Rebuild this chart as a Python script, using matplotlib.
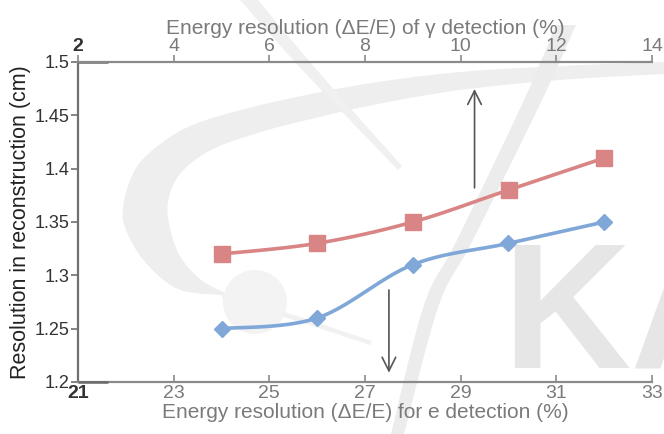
import numpy as np
import matplotlib
matplotlib.use("Agg")
import matplotlib.pyplot as plt
from matplotlib.patches import Circle, Polygon
from matplotlib.transforms import Affine2D

# Energy resolution settings and reconstruction resolution
e_resolution = [24, 26, 28, 30, 32]          # % (bottom axis, e detection)
gamma_resolution = [5, 7, 9, 11, 13]         # % (top axis, gamma detection)
res_vs_gamma = [1.32, 1.33, 1.35, 1.38, 1.41]  # cm
res_vs_e = [1.25, 1.26, 1.31, 1.33, 1.35]      # cm

bottom_ticks = [21, 23, 25, 27, 29, 31, 33]
top_ticks = [2, 4, 6, 8, 10, 12, 14]
y_ticks = [1.2, 1.25, 1.3, 1.35, 1.4, 1.45, 1.5]
y_ticklabels = ["1.2", "1.25", "1.3", "1.35", "1.4", "1.45", "1.5"]

RED = "#d98585"
BLUE = "#7fa7d8"
SPINE = "#8a8a8a"
LABEL_GREY = "#7a7a7a"
FONT = ["Liberation Sans", "DejaVu Sans"]

plt.rcParams["font.family"] = FONT


def smooth(x, y, n=30):
    """Smoothed (Catmull-Rom style) curve through a sequence of points."""
    x = np.asarray(x, float)
    y = np.asarray(y, float)
    px = np.concatenate([[x[0]], x, [x[-1]]])
    py = np.concatenate([[y[0]], y, [y[-1]]])
    xs, ys = [], []
    t = np.linspace(0, 1, n)
    for i in range(1, len(px) - 2):
        p0 = np.array([px[i], py[i]])
        p3 = np.array([px[i + 1], py[i + 1]])
        c1 = p0 + (np.array([px[i + 1], py[i + 1]]) - np.array([px[i - 1], py[i - 1]])) / 6
        c2 = p3 - (np.array([px[i + 2], py[i + 2]]) - np.array([px[i], py[i]])) / 6
        b = ((1 - t) ** 3)[:, None] * p0 + (3 * (1 - t) ** 2 * t)[:, None] * c1 \
            + (3 * (1 - t) * t ** 2)[:, None] * c2 + (t ** 3)[:, None] * p3
        xs.append(b[:, 0])
        ys.append(b[:, 1])
    return np.concatenate(xs), np.concatenate(ys)


def band(edge_a, edge_b):
    """Closed outline made of one smoothed edge and another smoothed edge."""
    ax_, ay_ = smooth(*zip(*edge_a))
    bx_, by_ = smooth(*zip(*edge_b))
    return np.column_stack([np.concatenate([ax_, bx_]), np.concatenate([ay_, by_])])


W, H = 664, 434
fig = plt.figure(figsize=(W / 100, H / 100), dpi=100)
fig.patch.set_facecolor("white")

# background logo, laid out in pixel coordinates (origin top-left)
pix = Affine2D().scale(1 / W, -1 / H).translate(0, 1) + fig.transFigure
WM = "#eeeeee"

orbit_outer = [(221, 295), (178, 289), (145, 262), (126, 230), (123, 208),
               (131, 178), (148, 154), (188, 127), (245, 109), (311, 94),
               (378, 82), (460, 72), (560, 66), (664, 62)]
orbit_inner = [(664, 74), (560, 80), (460, 90), (378, 104), (311, 119),
               (261, 132), (211, 150), (180, 174), (168, 202), (170, 228),
               (180, 256), (200, 279), (225, 293)]
fig.patches.append(Polygon(band(orbit_outer, orbit_inner), closed=True,
                           transform=pix, facecolor=WM, edgecolor="none", zorder=-5))

tail_a = [(222, 292), (300, 317), (372, 341)]
tail_b = [(370, 345), (300, 322), (222, 298)]
fig.patches.append(Polygon(band(tail_a, tail_b), closed=True, transform=pix,
                           facecolor="#f1f1f1", edgecolor="none", zorder=-5))

streak_a = [(240, 0), (295, 62), (345, 115), (398, 170)]
streak_b = [(402, 166), (352, 110), (310, 62), (258, 0)]
fig.patches.append(Polygon(band(streak_a, streak_b), closed=True, transform=pix,
                           facecolor="#f0f0f0", edgecolor="none", zorder=-5))

slash_a = [(556, 25), (524, 100), (457, 240), (424, 305), (391, 434)]
slash_b = [(404, 434), (439, 305), (473, 240), (542, 100), (576, 25)]
fig.patches.append(Polygon(band(slash_a, slash_b), closed=True, transform=pix,
                           facecolor="#ececec", edgecolor="none", zorder=-4))

fig.patches.append(Circle((255, 302), 32, transform=pix, facecolor="#f3f3f3",
                          edgecolor="none", zorder=-3))
fig.text(502 / W, 1 - 368 / H, "KA", fontsize=128, fontweight="bold",
         color="#e6e6e6", ha="left", va="baseline", zorder=-2, family=FONT)

ax = fig.add_axes([78 / W, 1 - 382 / H, (652 - 78) / W, (382 - 62) / H])
ax.patch.set_alpha(0)
ax_top = ax.twiny()
ax_top.patch.set_alpha(0)

ax.set_xlim(bottom_ticks[0], bottom_ticks[-1])
ax_top.set_xlim(top_ticks[0], top_ticks[-1])
ax.set_ylim(y_ticks[0], y_ticks[-1])

for a in (ax, ax_top):
    a.spines["right"].set_visible(False)
    for s in ("left", "top", "bottom"):
        a.spines[s].set_color(SPINE)
        a.spines[s].set_linewidth(1.6)
ax.spines["top"].set_visible(False)
ax_top.spines["bottom"].set_visible(False)
ax_top.spines["left"].set_visible(False)
ax.spines["left"].set_color("#707070")

# darker stubs where the frame lines meet the value axis
for yy in (0, 1):
    ax.plot([0, 0.052], [yy, yy], transform=ax.transAxes, color="#6a6a6a",
            lw=1.8, clip_on=False, zorder=5, solid_capstyle="butt")

# series: e detection on the bottom axis, gamma detection on the top axis
sx, sy = smooth(gamma_resolution, res_vs_gamma)
ax_top.plot(sx, sy, color=RED, lw=2.6, solid_capstyle="round", zorder=3)
ax_top.plot(gamma_resolution, res_vs_gamma, ls="none", marker="s",
            ms=11, color=RED, zorder=4)
bx, by = smooth(e_resolution, res_vs_e)
ax.plot(bx, by, color=BLUE, lw=2.6, solid_capstyle="round", zorder=3)
ax.plot(e_resolution, res_vs_e, ls="none", marker="D", ms=8.5,
        color=BLUE, zorder=4)

# arrows pointing to the axis each series belongs to
arrow = dict(arrowstyle="->,head_length=0.7,head_width=0.35",
             color="#555555", lw=1.2, mutation_scale=14, shrinkA=0, shrinkB=0)
ax_top.annotate("", xy=(10.29, 1.4747), xytext=(10.29, 1.382), arrowprops=arrow)
ax.annotate("", xy=(27.5, 1.2087), xytext=(27.5, 1.2863), arrowprops=arrow)

# ticks
ax.set_yticks(y_ticks)
ax.set_yticklabels(y_ticklabels)
ax.tick_params(axis="y", direction="out", length=5, width=1.2, color="#707070",
               labelsize=13, labelcolor="#333333", pad=1)
ax.set_xticks(bottom_ticks)
ax.set_xticklabels([str(t) for t in bottom_ticks])
ax.tick_params(axis="x", direction="in", length=5, width=1.2, color=SPINE,
               labelsize=14, labelcolor=LABEL_GREY, pad=2)
ax_top.set_xticks(top_ticks)
ax_top.set_xticklabels([str(t) for t in top_ticks])
ax_top.tick_params(axis="x", direction="out", length=5, width=1.2, color=SPINE,
                   labelsize=14, labelcolor=LABEL_GREY, pad=0)
for lab in (ax.get_xticklabels()[0], ax_top.get_xticklabels()[0]):
    lab.set_color("#333333")
    lab.set_fontweight("bold")

ax.set_xlabel("Energy resolution (ΔE/E) for e detection (%)", fontsize=15,
              color=LABEL_GREY, labelpad=1)
ax_top.set_xlabel("Energy resolution (ΔE/E) of γ detection (%)", fontsize=15,
                  color=LABEL_GREY, labelpad=3)
ax.set_ylabel("Resolution in reconstruction (cm)", fontsize=15.5, color="#222222",
              labelpad=3)

fig.savefig("out.png", dpi=100, facecolor="white")
